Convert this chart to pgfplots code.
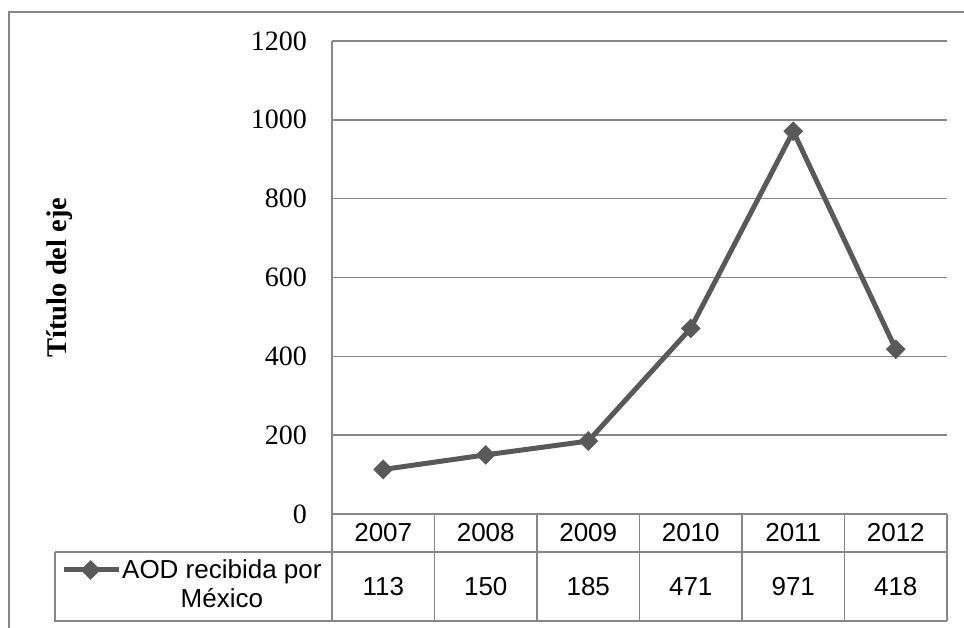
\documentclass[border=0pt]{standalone}
\usepackage{fontspec}
\setmainfont{Liberation Serif}
\newfontfamily\tablefont{Liberation Sans}
\usepackage{pgfplots}
\pgfplotsset{compat=1.18}
\definecolor{linegray}{HTML}{595959}
\definecolor{gridgray}{HTML}{878787}

\begin{document}
\begin{tikzpicture}[x=1pt,y=1pt]
\useasboundingbox (0,0) rectangle (964,628);
% chart area border (only top and left visible)
\draw[gridgray, line width=1.5pt] (9,0) -- (9,616) -- (964,616);

\begin{axis}[
    at={(332pt,114pt)}, anchor=south west,
    scale only axis, width=615pt, height=473pt,
    xmin=2006.5, xmax=2012.5,
    ymin=0, ymax=1200,
    xtick=\empty,
    ytick={0,200,...,1200},
    major tick length=0pt,
    ymajorgrids=true,
    grid style={gridgray, line width=1.5pt},
    axis line style={draw=none},
    clip=false,
    /pgf/number format/1000 sep={},
    /pgf/number format/assume math mode=true,
    yticklabel style={font=\fontsize{28}{30}\selectfont, anchor=east, inner sep=0pt, xshift=-25pt},
    ylabel={\textbf{Título del eje}},
    ylabel style={at={(rel axis cs:-0.4423,0.5)}, anchor=center, font=\fontsize{28.5}{30}\selectfont},
    legend style={at={(rel axis cs:-0.4407,-0.0943)}, anchor=north west, draw=none, fill=none,
        font=\tablefont\fontsize{26}{29}\selectfont, inner sep=0pt,
        nodes={align=center, inner sep=1pt}},
    legend image code/.code={\draw[mark repeat=2,mark phase=2,#1] plot coordinates {(0pt,14.5pt)(27pt,14.5pt)(55pt,14.5pt)};},
]
\addplot[linegray, line width=5pt, mark=square*,
    mark size=6.7pt, mark options={solid, rotate=45, line width=0.5pt, fill=linegray}]
    coordinates {(2007,113)(2008,150)(2009,185)(2010,471)(2011,971)(2012,418)};
\addlegendentry{AOD recibida por\\México}

% axis lines
\draw[gridgray, line width=1.5pt] (rel axis cs:0,1) -- (rel axis cs:0,0) -- (rel axis cs:1,0);
\end{axis}

% data table below the plot area
\foreach \k in {0,...,6}
  \draw[gridgray, line width=1.5pt] ({332+102.5*\k},114) -- ({332+102.5*\k},7);
\draw[gridgray, line width=1.5pt] (55,76) -- (947,76);
\draw[gridgray, line width=1.5pt] (55,76) -- (55,7) -- (947,7);
\foreach \yr/\v [count=\k from 0] in {2007/113,2008/150,2009/185,2010/471,2011/971,2012/418} {
  \node[font=\tablefont\fontsize{26}{29}\selectfont] at ({383.25+102.5*\k},95) {\yr};
  \node[font=\tablefont\fontsize{26}{29}\selectfont] at ({383.25+102.5*\k},41.5) {\v};
}
\end{tikzpicture}
\end{document}
